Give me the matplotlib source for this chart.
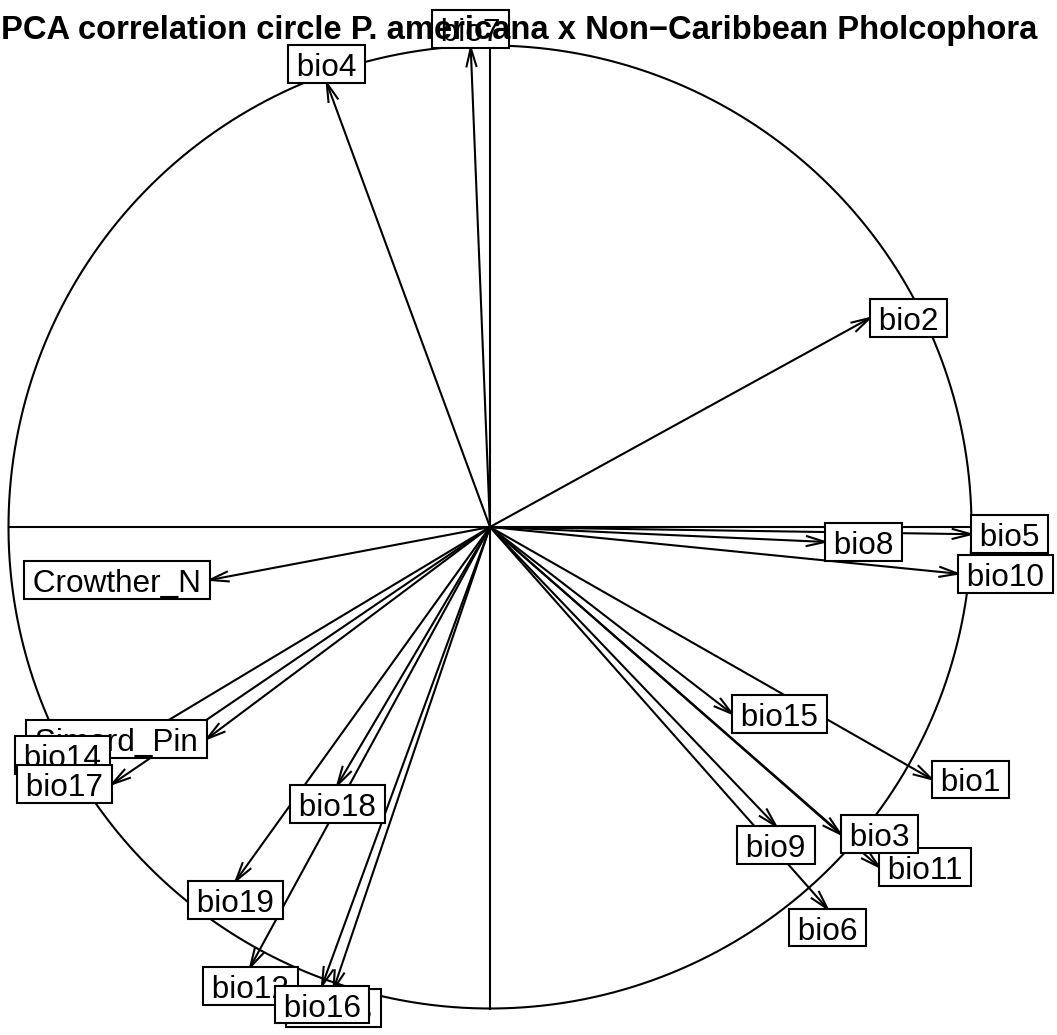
import matplotlib
matplotlib.use("Agg")
import matplotlib.pyplot as plt
import numpy as np
from matplotlib.patches import Rectangle

# ---- data (order in which labels are drawn) ----
labels = ["Crowther_N", "Simard_Pin", "bio1", "bio10", "bio11", "bio12", "bio13",
          "bio14", "bio15", "bio16", "bio17", "bio18", "bio19", "bio2", "bio3",
          "bio4", "bio5", "bio6", "bio7", "bio8", "bio9"]
pc1 = [-0.582, -0.588, 0.918, 0.972, 0.808, -0.498, -0.325,
       -0.789, 0.503, -0.349, -0.785, -0.317, -0.528, 0.789, 0.728,
       -0.339, 0.999, 0.701, -0.040, 0.696, 0.594]
pc2 = [-0.110, -0.440, -0.524, -0.097, -0.706, -0.914, -0.960,
       -0.474, -0.388, -0.953, -0.534, -0.536, -0.735, 0.434, -0.638,
       0.922, -0.015, -0.793, 0.995, -0.031, -0.621]
title = "PCA correlation circle P. americana x Non\u2212Caribbean Pholcophora"

# ---- layout ----
W, H = 1057, 1035
S = 481.5          # pixels per unit
CX, CY = 490, 527  # centre in pixels
FONT = "Liberation Sans"
LFS = 22.7         # label font size (pt)
LW = 1.5

fig = plt.figure(figsize=(W / 100, H / 100), dpi=100)
ax = fig.add_axes([0, 0, 1, 1])
ax.set_xlim(-CX / S, (W - CX) / S)
ax.set_ylim(-(H - CY) / S, CY / S)
ax.axis("off")

# circle and axes
th = np.linspace(0, 2 * np.pi, 600)
ax.plot(np.cos(th), np.sin(th), color="black", lw=LW, zorder=1)
ax.plot([-1, 1], [0, 0], color="black", lw=LW, zorder=1)
ax.plot([0, 0], [-1, 1], color="black", lw=LW, zorder=1)

# arrows
L = 19.0 / S
ang = np.deg2rad(15)
for x, y in zip(pc1, pc2):
    ax.plot([0, x], [0, y], color="black", lw=LW, zorder=2,
            solid_capstyle="butt")
    phi = np.arctan2(y, x) + np.pi
    p1 = (x + L * np.cos(phi + ang), y + L * np.sin(phi + ang))
    p2 = (x + L * np.cos(phi - ang), y + L * np.sin(phi - ang))
    ax.plot([p1[0], x, p2[0]], [p1[1], y, p2[1]], color="black", lw=LW,
            zorder=2, solid_joinstyle="miter")

# labels with boxes
renderer = fig.canvas.get_renderer()
yh = 18.8 / S
base_off = 12.0 / S
for i, (lab, x, y) in enumerate(zip(labels, pc1, pc2)):
    cha = " " + lab + " "
    t = ax.text(0, 0, cha, fontsize=LFS, family=FONT, ha="center",
                va="baseline", zorder=11 + 2 * i)
    bb = t.get_window_extent(renderer)
    xh = bb.width / S
    if x > y and x > -y:
        x1, y1 = x + xh / 2, y
    elif x > y and x <= -y:
        x1, y1 = x, y - yh
    elif x <= y and x <= -y:
        x1, y1 = x - xh / 2, y
    else:
        x1, y1 = x, y + yh
    ax.add_patch(Rectangle((x1 - xh / 2, y1 - yh), xh, 2 * yh,
                           facecolor="white", edgecolor="black", lw=LW,
                           zorder=10 + 2 * i))
    t.set_position((x1, y1 - base_off))

# title (drawn last, on top)
ax.text((519 - CX) / S, (CY - 39) / S, title, fontsize=23.6, family=FONT,
        fontweight="bold", ha="center", va="baseline", zorder=200)

fig.savefig("out.png", dpi=100)
